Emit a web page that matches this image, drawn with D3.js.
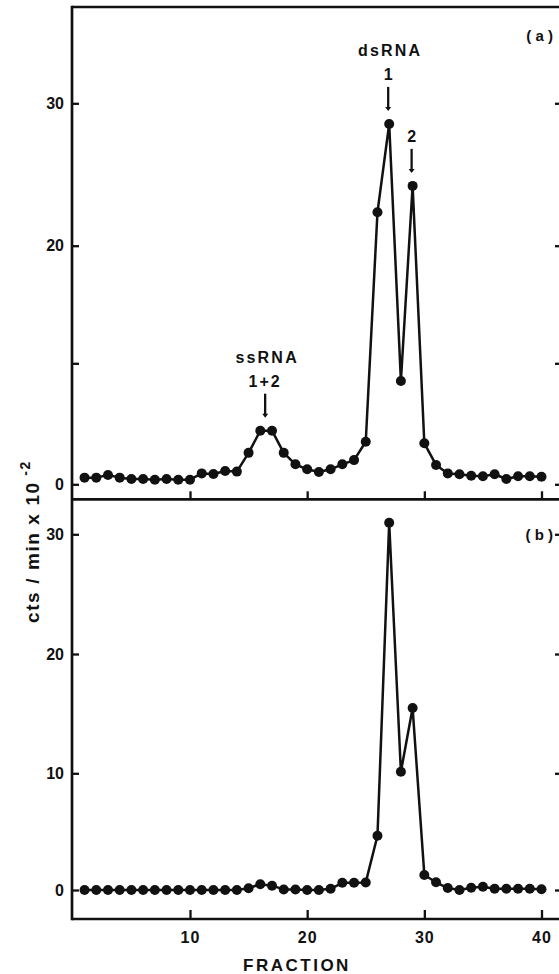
<!DOCTYPE html>
<html>
<head>
<meta charset="utf-8">
<script src="https://cdn.jsdelivr.net/npm/d3@7"></script>
<style>
  body { margin: 0; background: #fff; }
  svg { display: block; }
  text { font-family: "Liberation Sans", Arial, Helvetica, sans-serif; font-weight: bold; fill: #111; }
</style>
</head>
<body>
<svg id="chart" width="559" height="974"></svg>
<script>
// Gradient fractions collected from the column
const fractions = [1, 2, 3, 4, 5, 6, 7, 8, 9, 10,
                   11, 12, 13, 14, 15, 16, 17, 18, 19, 20,
                   21, 22, 23, 24, 25, 26, 27, 28, 29, 30,
                   31, 32, 33, 34, 35, 36, 37, 38, 39, 40];

// (a) counts per fraction, cts/min x 10^-2
const countsA = [0.55, 0.55, 0.77, 0.55, 0.44, 0.44, 0.38, 0.44, 0.38, 0.38,
                 0.9, 0.85, 1.1, 1.05, 2.6, 4.43, 4.43, 2.6, 1.65, 1.24,
                 1.02, 1.24, 1.65, 2.0, 3.52, 22.35, 28.55, 8.54, 24.2, 3.39,
                 1.6, 0.9, 0.83, 0.71, 0.66, 0.83, 0.44, 0.66, 0.66, 0.63];

// (b) counts per fraction, cts/min x 10^-2
const countsB = [0, 0, 0, 0, 0, 0, 0, 0, 0, 0,
                 0, 0, 0, 0, 0.15, 0.5, 0.37, 0.05, 0.05, 0,
                 0, 0.1, 0.62, 0.62, 0.65, 4.65, 30.97, 10.13, 15.47, 1.29,
                 0.66, 0.17, 0, 0.2, 0.28, 0.1, 0.1, 0.1, 0.1, 0.07];

const xTicks = [10, 20, 30, 40];
const yTicks = [0, 10, 20, 30];
const yTickLabelsA = ["0", "", "20", "30"];
const yTickLabelsB = ["0", "10", "20", "30"];

// Peak annotations for panel (a)
const peakNotes = [
  { title: "dsRNA", sub: "1", at: 27, tip: 28.55 },
  { title: "",      sub: "2", at: 29, tip: 24.2 },
  { title: "ssRNA", sub: "1+2", at: 16.5, tip: 4.43 }
];

const svg = d3.select("#chart");

// Frame geometry
const left = 72, right = 559;
const topA = 7, midY = 499.3, bottomY = 919;

const x = d3.scaleLinear().domain([10, 40]).range([190, 541.5]);
// tick spacing of the original axes is kept as drawn
const yA = d3.scaleLinear().domain(yTicks).range([484.3, 363.3, 245.7, 103.3]);
const yB = d3.scaleLinear().domain(yTicks).range([890, 773.3, 654, 534.3]);

// Frame lines
const frame = svg.append("g").attr("stroke", "#111").attr("stroke-width", 2.7).attr("fill", "none");
frame.append("line").attr("x1", left).attr("x2", left).attr("y1", topA - 1.3).attr("y2", bottomY + 1.3);
frame.append("line").attr("x1", left).attr("x2", right).attr("y1", topA).attr("y2", topA);
frame.append("line").attr("x1", left).attr("x2", right).attr("y1", midY).attr("y2", midY);
frame.append("line").attr("x1", left).attr("x2", right).attr("y1", bottomY).attr("y2", bottomY);

function styleAxis(g, fontSize) {
  g.select(".domain").remove();
  g.selectAll(".tick line").attr("stroke", "#111").attr("stroke-width", 2.3);
  g.selectAll(".tick text")
    .attr("fill", "#111")
    .style("font-family", "'Liberation Sans', Arial, sans-serif")
    .style("font-weight", "bold")
    .style("font-size", fontSize + "px");
}

// Left axes
svg.append("g").attr("transform", `translate(${left},0)`)
  .call(d3.axisLeft(yA).tickValues(yTicks).tickSize(-7).tickPadding(8)
    .tickFormat((d, i) => yTickLabelsA[i]))
  .call(g => styleAxis(g, 16));
svg.append("g").attr("transform", `translate(${left},0)`)
  .call(d3.axisLeft(yB).tickValues(yTicks).tickSize(-7).tickPadding(8)
    .tickFormat((d, i) => yTickLabelsB[i]))
  .call(g => styleAxis(g, 16));

// Right-hand tick marks
svg.append("g").attr("transform", `translate(${right},0)`)
  .call(d3.axisRight(yA).tickValues(yTicks).tickSize(-4).tickFormat(""))
  .call(g => styleAxis(g, 16));
svg.append("g").attr("transform", `translate(${right},0)`)
  .call(d3.axisRight(yB).tickValues(yTicks).tickSize(-4).tickFormat(""))
  .call(g => styleAxis(g, 16));

// Fraction axis between panels (no labels) and at the bottom
svg.append("g").attr("transform", `translate(0,${midY})`)
  .call(d3.axisBottom(x).tickValues(xTicks).tickSize(-8).tickFormat(""))
  .call(g => styleAxis(g, 16));
svg.append("g").attr("transform", `translate(0,${bottomY})`)
  .call(d3.axisBottom(x).tickValues(xTicks).tickSize(-9).tickPadding(13).tickFormat(d3.format("d")))
  .call(g => styleAxis(g, 16))
  .call(g => g.selectAll(".tick text").style("letter-spacing", "1px"));

// Axis titles
svg.append("text")
  .attr("x", 297).attr("y", 970.5)
  .attr("text-anchor", "middle")
  .style("font-size", "17px")
  .style("letter-spacing", "2.5px")
  .text("FRACTION");

const yTitle = svg.append("text")
  .attr("transform", "translate(39,623) rotate(-90)")
  .style("font-size", "19px")
  .style("letter-spacing", "1.6px");
yTitle.append("tspan").text("cts / min  x  10");
yTitle.append("tspan").attr("dy", -9).style("font-size", "14px").text(" -2");

// Series
const line = d3.line();
function drawSeries(values, yScale) {
  const pts = fractions.map((f, i) => [x(f), yScale(values[i])]);
  svg.append("path")
    .attr("d", line(pts))
    .attr("fill", "none")
    .attr("stroke", "#111")
    .attr("stroke-width", 2.5)
    .attr("stroke-linejoin", "round");
  svg.append("g").selectAll("circle")
    .data(pts)
    .join("circle")
    .attr("cx", d => d[0])
    .attr("cy", d => d[1])
    .attr("r", 5)
    .attr("fill", "#111");
}
drawSeries(countsA, yA);
drawSeries(countsB, yB);

// Panel letters
svg.append("text").attr("x", 553).attr("y", 40.5).attr("text-anchor", "end")
  .style("font-size", "15px").text("( a )");
svg.append("text").attr("x", 553).attr("y", 540).attr("text-anchor", "end")
  .style("font-size", "15px").text("( b )");

// Peak annotations with arrows
const notes = svg.append("g");
peakNotes.forEach(n => {
  const cx = x(n.at) - 1;
  const tipY = yA(n.tip) - 13;
  const tailY = tipY - 24;
  if (n.title) {
    notes.append("text").attr("x", cx + 2).attr("y", tailY - 31)
      .attr("text-anchor", "middle").style("font-size", "16px")
      .style("letter-spacing", "2.2px").text(n.title);
  }
  notes.append("text").attr("x", cx).attr("y", tailY - 7)
    .attr("text-anchor", "middle").style("font-size", "16px")
    .style("letter-spacing", n.sub.length > 1 ? "2px" : "0px").text(n.sub);
  notes.append("line").attr("x1", cx).attr("x2", cx)
    .attr("y1", tailY).attr("y2", tipY - 3)
    .attr("stroke", "#111").attr("stroke-width", 2.3);
  notes.append("path")
    .attr("d", `M${cx - 3},${tipY - 4}L${cx + 3},${tipY - 4}L${cx},${tipY}Z`)
    .attr("fill", "#111");
});
</script>
</body>
</html>
